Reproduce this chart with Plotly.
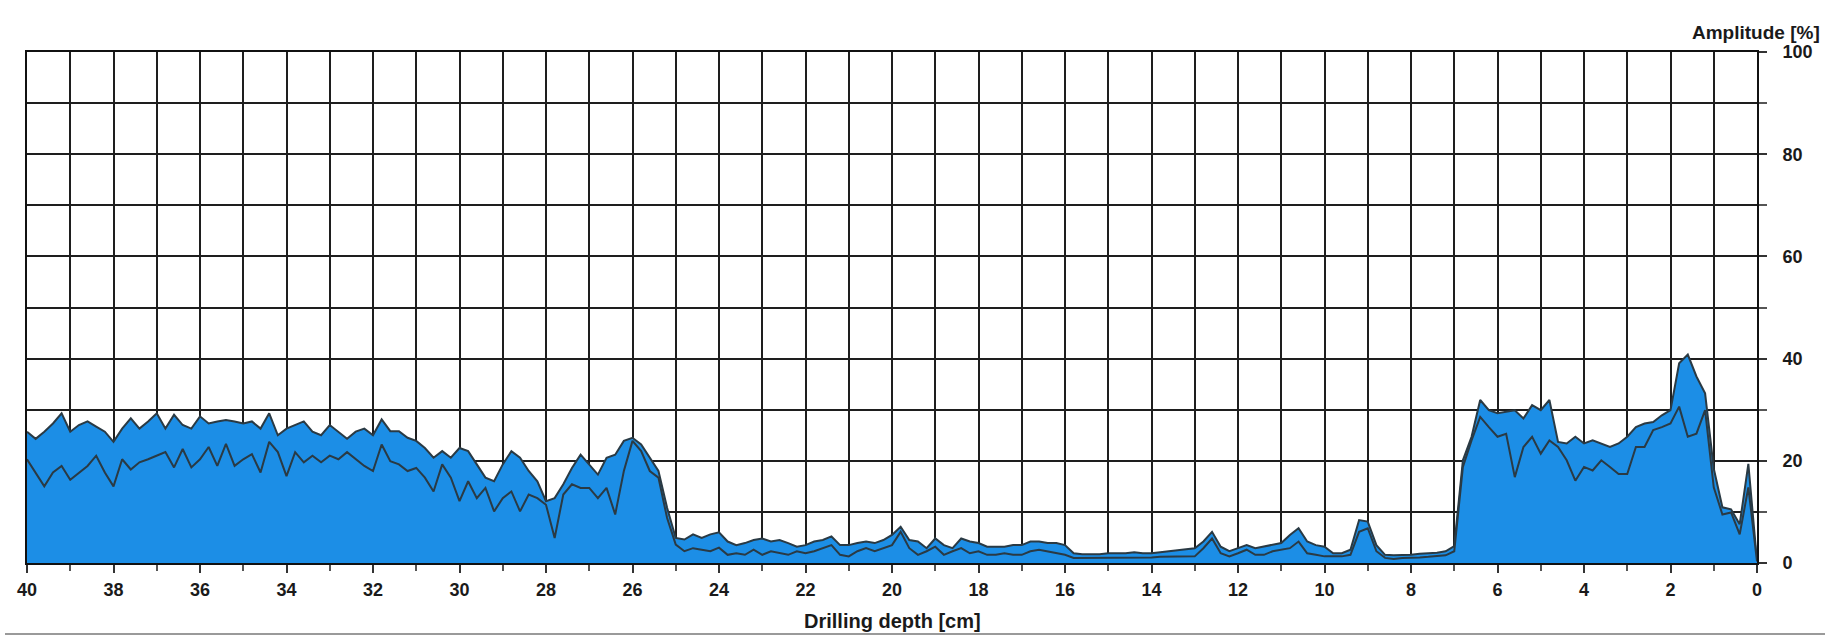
import plotly.graph_objects as go

# Drilling depth grid (cm), 0.2 cm sampling from 40 down to 0
depth = [round(40 - 0.2 * i, 1) for i in range(201)]

# Upper amplitude trace [%]
upper = [
    # 40.0 .. 32.0
    25.7, 24.3, 25.7, 27.3, 29.3, 25.7, 27.0, 27.7, 26.7, 25.7, 23.7,
    26.3, 28.3, 26.3, 27.7, 29.3, 26.3, 29.0, 27.0, 26.3, 28.7,
    27.3, 27.7, 28.0, 27.7, 27.3, 27.7, 26.3, 29.3, 25.0, 26.3,
    27.0, 27.7, 25.7, 25.0, 27.0, 25.7, 24.3, 25.7, 26.3, 25.0,
    # 31.8 .. 24.0
    28.1, 25.8, 25.8, 24.5, 23.9, 22.5, 20.6, 21.9, 20.6, 22.5,
    21.9, 19.3, 16.7, 16.0, 19.3, 21.9, 20.6, 18.0, 16.0, 12.1,
    12.7, 15.4, 18.6, 21.2, 19.3, 17.3, 20.6, 21.2, 23.9, 24.5,
    23.2, 20.6, 18.0, 10.8, 4.9, 4.6, 5.6, 4.9, 5.6, 6.0,
    # 23.8 .. 16.0
    4.2, 3.5, 3.9, 4.5, 4.8, 4.2, 4.5, 3.9, 3.2, 3.5,
    4.2, 4.5, 5.2, 3.5, 3.5, 3.9, 4.2, 3.9, 4.5, 5.5,
    7.1, 4.5, 4.2, 2.9, 4.8, 3.5, 2.9, 4.8, 4.2, 3.9,
    3.2, 3.2, 3.2, 3.5, 3.5, 4.2, 4.2, 3.9, 3.9, 3.5,
    # 15.8 .. 8.0
    1.9, 1.7, 1.7, 1.7, 1.9, 1.9, 1.9, 2.1, 1.9, 1.9,
    2.1, 2.3, 2.4, 2.6, 2.9, 4.2, 6.1, 3.2, 2.3, 2.9,
    3.5, 2.9, 3.2, 3.5, 3.9, 5.5, 6.8, 4.2, 3.5, 3.2,
    1.9, 1.9, 2.6, 8.4, 8.1, 3.5, 1.6, 1.5, 1.5, 1.6,
    # 7.8 .. 0.0
    1.8, 1.9, 2.0, 2.3, 3.3, 20.1, 24.7, 31.9, 29.9, 29.3,
    29.6, 29.9, 28.3, 30.9, 29.9, 31.9, 23.7, 23.4, 24.7, 23.4,
    24.0, 23.4, 22.7, 23.4, 24.7, 26.6, 27.3, 27.6, 28.9, 29.9,
    39.1, 40.8, 36.5, 33.2, 18.5, 10.9, 10.5, 7.6, 19.4, 0.3,
]

# Lower amplitude trace [%]
lower = [
    # 40.0 .. 32.0
    20.3, 17.7, 15.0, 17.7, 19.0, 16.3, 17.7, 19.0, 21.0, 17.7, 15.0,
    20.3, 18.3, 19.7, 20.3, 21.0, 21.7, 18.7, 22.3, 18.7, 20.3,
    22.7, 19.0, 23.3, 19.0, 20.3, 21.3, 17.7, 23.7, 21.7, 17.0,
    21.7, 19.7, 21.0, 19.7, 21.0, 20.3, 21.7, 20.3, 19.0, 18.0,
    # 31.8 .. 24.0
    23.2, 19.9, 19.3, 18.0, 18.6, 16.7, 14.0, 19.3, 16.7, 12.1,
    16.0, 12.7, 14.7, 10.1, 12.7, 14.0, 10.1, 13.4, 12.7, 11.4,
    4.9, 13.4, 15.4, 14.7, 14.7, 12.7, 14.7, 9.5, 18.0, 23.9,
    21.9, 18.0, 16.7, 8.8, 3.6, 2.3, 2.9, 2.6, 2.3, 3.0,
    # 23.8 .. 16.0
    1.6, 1.9, 1.6, 2.6, 1.6, 2.3, 1.9, 1.6, 2.3, 1.9,
    2.3, 2.9, 3.5, 1.6, 1.3, 2.3, 2.9, 2.3, 2.9, 3.5,
    6.1, 2.9, 1.6, 2.3, 3.2, 1.6, 2.3, 2.9, 1.9, 2.3,
    1.6, 1.6, 1.9, 1.6, 1.6, 2.3, 2.6, 2.3, 1.9, 1.6,
    # 15.8 .. 8.0
    1.0, 1.0, 1.1, 1.1, 1.1, 1.1, 1.1, 1.1, 1.1, 1.1,
    1.2, 1.2, 1.2, 1.3, 1.3, 2.9, 4.8, 1.9, 1.3, 1.9,
    2.6, 1.6, 1.6, 2.3, 2.6, 2.9, 4.2, 1.9, 1.6, 1.3,
    1.3, 1.3, 1.6, 6.1, 6.8, 2.3, 1.0, 0.8, 1.0, 1.0,
    # 7.8 .. 0.0
    1.1, 1.2, 1.3, 1.5, 2.3, 18.8, 24.0, 28.6, 26.6, 24.7,
    25.3, 16.8, 22.7, 24.7, 21.4, 24.0, 22.7, 20.1, 16.1, 18.8,
    18.1, 20.1, 18.8, 17.4, 17.4, 22.7, 22.7, 26.0, 26.6, 27.3,
    30.6, 24.7, 25.3, 29.9, 14.8, 9.5, 9.9, 5.6, 14.8, 0.3,
]

x_ticks = list(range(0, 41, 2))
y_ticks = [0, 20, 40, 60, 80, 100]

FILL = "#1C8EE6"
LINE = "#2a3a44"
GRID = "#1e1e1e"
FONT = "Liberation Sans, Arial, sans-serif"

fig = go.Figure()
fig.add_trace(go.Scatter(x=depth, y=upper, mode="lines", fill="tozeroy",
                         fillcolor=FILL, line=dict(color=LINE, width=2),
                         hoverinfo="skip"))
fig.add_trace(go.Scatter(x=depth, y=lower, mode="lines", fill="tozeroy",
                         fillcolor=FILL, line=dict(color=LINE, width=2),
                         hoverinfo="skip"))

W, H = 1830, 637
L, R, T, B = 27, 73, 52, 74
ph = H - T - B

def ypix(p):
    return (H - B - p) / ph

def xpix(p):
    return (p - L) / (W - L - R)

fig.update_layout(
    width=W, height=H,
    margin=dict(l=L, r=R, t=T, b=B),
    plot_bgcolor="white", paper_bgcolor="white",
    showlegend=False,
    font=dict(family=FONT, size=18, color="#1a1a1a"),
    xaxis=dict(
        range=[40, 0], tickmode="array", tickvals=x_ticks,
        ticktext=[str(v) for v in x_ticks],
        showgrid=True, gridcolor=GRID, gridwidth=1.8,
        ticks="outside", ticklen=8, tickwidth=1.5, tickcolor="#333",
        minor=dict(dtick=1, tick0=0, showgrid=True, gridcolor=GRID, gridwidth=1.8,
                   ticks="outside", ticklen=6, tickcolor="#555"),
        showline=True, mirror=True, linecolor="#111", linewidth=2,
        zeroline=False,
        tickfont=dict(family=FONT, size=18, weight="bold", color="#1a1a1a"),
        ticklabelstandoff=1,
    ),
    yaxis=dict(
        range=[0, 100], side="right", tickmode="array", tickvals=y_ticks,
        ticktext=[str(v) for v in y_ticks],
        showgrid=True, gridcolor=GRID, gridwidth=1.8,
        ticks="outside", ticklen=8, tickwidth=1.5, tickcolor="#333",
        minor=dict(dtick=10, tick0=0, showgrid=True, gridcolor=GRID, gridwidth=1.8,
                   ticks="outside", ticklen=8, tickcolor="#555"),
        showline=True, mirror=True, linecolor="#111", linewidth=2,
        zeroline=False,
        tickfont=dict(family=FONT, size=18, weight="bold", color="#1a1a1a"),
        ticklabelstandoff=12,
    ),
    annotations=[
        dict(text="Amplitude [%]", xref="paper", yref="paper",
             x=xpix(1822), y=ypix(33), xanchor="right", yanchor="middle",
             showarrow=False,
             font=dict(family=FONT, size=19, weight="bold", color="#1a1a1a")),
        dict(text="Drilling depth [cm]", xref="paper", yref="paper",
             x=0.5, y=ypix(621), xanchor="center", yanchor="middle",
             showarrow=False,
             font=dict(family=FONT, size=20, weight="bold", color="#1a1a1a")),
    ],
    shapes=[
        dict(type="line", xref="paper", yref="paper",
             x0=xpix(5), x1=xpix(1825), y0=ypix(634), y1=ypix(634),
             line=dict(color="#9a9a9a", width=2)),
    ],
)

fig.write_html(
    "out.html",
    config={"displayModeBar": False},
    post_script="document.body.style.margin='0';"
                "document.body.style.overflow='hidden';"
                "document.documentElement.style.overflow='hidden';",
)
